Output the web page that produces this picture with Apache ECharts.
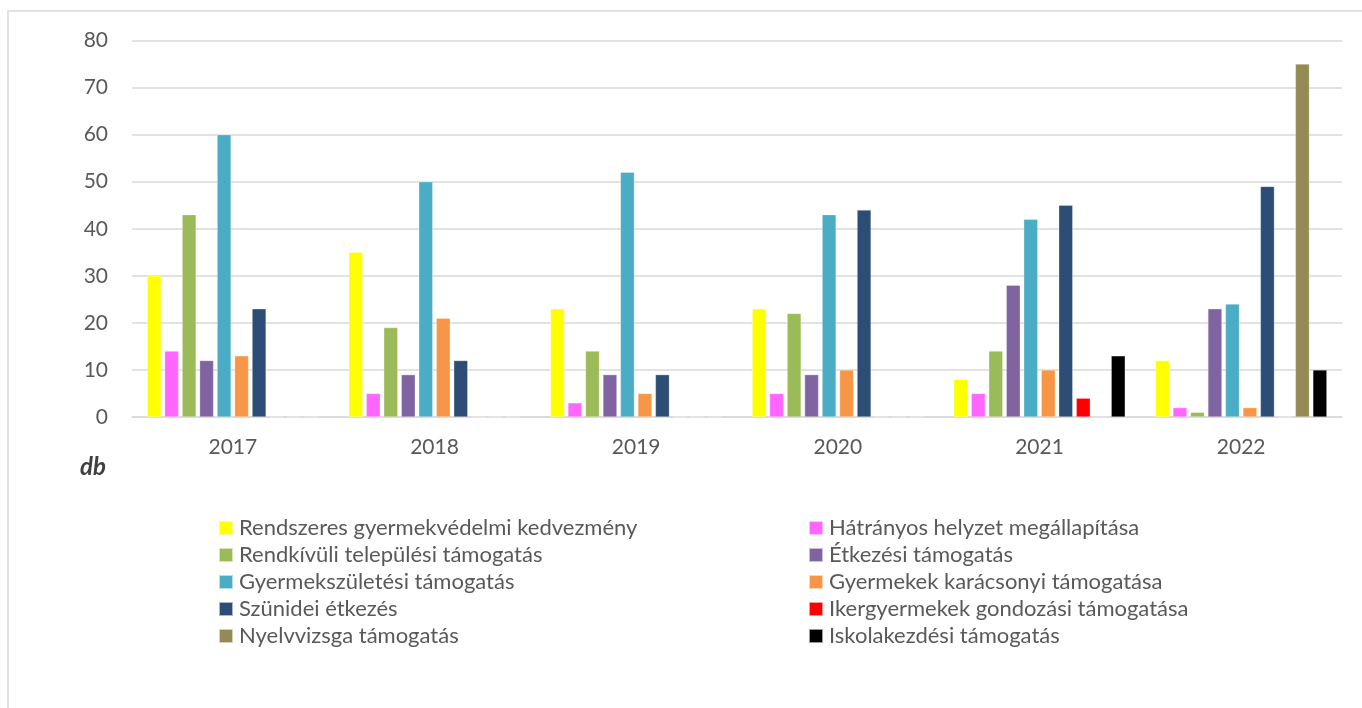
<!DOCTYPE html>
<html>
<head>
<meta charset="utf-8">
<script src="https://cdn.jsdelivr.net/npm/echarts@6/dist/echarts.min.js"></script>
<style>
  html, body { margin: 0; padding: 0; background: #fff; }
  #bar1 { width: 1362px; height: 708px; }
</style>
</head>
<body>
<div id="bar1"></div>
<script>
// évek
const years = ['2017', '2018', '2019', '2020', '2021', '2022'];
const yTicks = [0, 10, 20, 30, 40, 50, 60, 70, 80];

const seriesNames = [
  'Rendszeres gyermekvédelmi kedvezmény',
  'Hátrányos helyzet megállapítása',
  'Rendkívüli települési támogatás',
  'Étkezési támogatás',
  'Gyermekszületési támogatás',
  'Gyermekek karácsonyi támogatása',
  'Szünidei étkezés',
  'Ikergyermekek gondozási támogatása',
  'Nyelvvizsga támogatás',
  'Iskolakezdési támogatás'
];

const rendszeres   = [30, 35, 23, 23, 8, 12];
const hatranyos    = [14, 5, 3, 5, 5, 2];
const rendkivuli   = [43, 19, 14, 22, 14, 1];
const etkezesi     = [12, 9, 9, 9, 28, 23];
const szuletesi    = [60, 50, 52, 43, 42, 24];
const karacsonyi   = [13, 21, 5, 10, 10, 2];
const szunidei     = [23, 12, 9, 44, 45, 49];
const ikergyermek  = [0, 0, 0, 0, 4, 0];
const nyelvvizsga  = [0, 0, 0, 0, 0, 75];
const iskolakezdes = [0, 0, 0, 0, 13, 10];

const allData = [rendszeres, hatranyos, rendkivuli, etkezesi, szuletesi,
  karacsonyi, szunidei, ikergyermek, nyelvvizsga, iskolakezdes];

const colors = ['#FFFF00', '#FF66FF', '#9BBB59', '#8064A2', '#4BACC6',
  '#F79646', '#2C4D75', '#FF0000', '#948A54', '#000000'];

const font = 'Lato, "Open Sans", sans-serif';

const chart = echarts.init(document.getElementById('bar1'));

const legendStyle = {
  orient: 'vertical',
  itemWidth: 14,
  itemHeight: 14,
  itemGap: 5,
  icon: 'rect',
  selectedMode: false,
  textStyle: { color: '#595959', fontSize: 22, fontFamily: font, padding: [0, 0, 0, 1] }
};

const option = {
  animation: false,
  color: colors,
  graphic: [
    {
      type: 'rect',
      shape: { x: 8, y: 11, width: 1400, height: 800 },
      style: { fill: 'none', stroke: '#d9d9d9', lineWidth: 1.5 },
      silent: true
    },
    {
      type: 'text',
      left: 80,
      top: 455,
      style: { text: 'db', fill: '#404040', font: 'italic bold 24px ' + font }
    }
  ],
  grid: { left: 132, right: 20, top: 40.5, bottom: 291, containLabel: false },
  legend: [
    Object.assign({}, legendStyle, {
      left: 213, top: 512,
      data: seriesNames.filter((n, i) => i % 2 === 0)
    }),
    Object.assign({}, legendStyle, {
      left: 803, top: 512,
      data: seriesNames.filter((n, i) => i % 2 === 1)
    })
  ],
  xAxis: {
    type: 'category',
    data: years,
    axisTick: { show: false },
    axisLine: { lineStyle: { color: '#d9d9d9', width: 1.5 } },
    axisLabel: { color: '#595959', fontSize: 21, fontFamily: font, margin: 20 }
  },
  yAxis: {
    type: 'value',
    min: yTicks[0],
    max: yTicks[yTicks.length - 1],
    interval: 10,
    axisLine: { show: false },
    axisTick: { show: false },
    splitLine: { lineStyle: { color: '#d9d9d9', width: 1.5 } },
    axisLabel: { color: '#595959', fontSize: 21, fontFamily: font, margin: 24 }
  },
  series: seriesNames.map((name, i) => ({
    name: name,
    type: 'bar',
    data: allData[i],
    barGap: '25%',
    barCategoryGap: '15%',
    itemStyle: { color: colors[i], borderColor: 'rgba(255,255,255,0.6)', borderWidth: 0.5 }
  }))
};

chart.setOption(option);
window.addEventListener('resize', () => {
  chart.resize();
});
</script>
</body>
</html>
